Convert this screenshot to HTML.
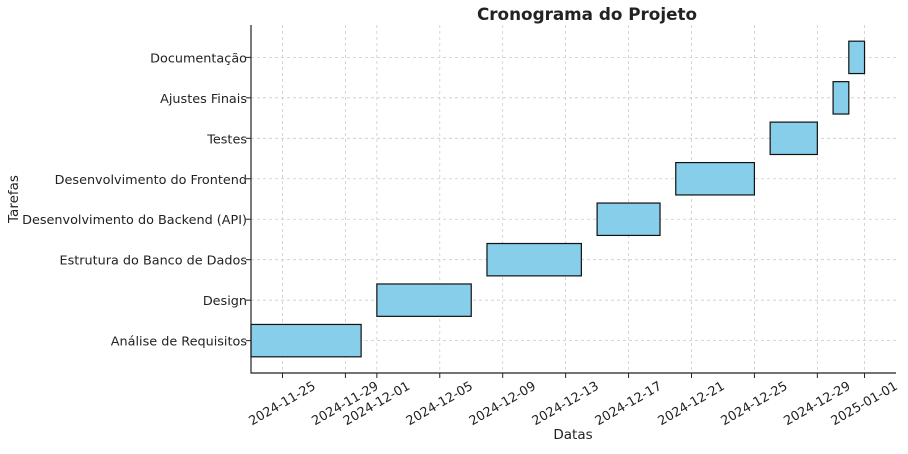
<!DOCTYPE html>
<html><head><meta charset="utf-8"><style>
body{margin:0;background:#fff;}
svg text{font-family:"DejaVu Sans","Liberation Sans",sans-serif;fill:#222;}
</style></head><body>
<svg id="chart" width="908" height="449" xmlns="http://www.w3.org/2000/svg">
<text x="587" y="20" text-anchor="middle" font-size="16.8" font-weight="bold">Cronograma do Projeto</text>
<text x="573" y="439" text-anchor="middle" font-size="13.5">Datas</text>
<text transform="translate(18,199) rotate(-90)" text-anchor="middle" font-size="13.5">Tarefas</text>
<g id="grid"></g><g id="bars"></g><g id="axes"></g>
</svg>
<script>
const tasks=["Análise de Requisitos","Design","Estrutura do Banco de Dados","Desenvolvimento do Backend (API)","Desenvolvimento do Frontend","Testes","Ajustes Finais","Documentação"];
const starts=["2024-11-23","2024-12-01","2024-12-08","2024-12-15","2024-12-20","2024-12-26","2024-12-30","2024-12-31"];
const ends=["2024-11-30","2024-12-07","2024-12-14","2024-12-19","2024-12-25","2024-12-29","2024-12-31","2025-01-01"];
const xTicks=["2024-11-25","2024-11-29","2024-12-01","2024-12-05","2024-12-09","2024-12-13","2024-12-17","2024-12-21","2024-12-25","2024-12-29","2025-01-01"];
const NS="http://www.w3.org/2000/svg";
const L=251,R=896,T=25,B=373;
const d0=Date.UTC(2024,10,23),d1=Date.UTC(2025,0,3);
function day(s){const p=s.split('-');return Date.UTC(+p[0],p[1]-1,+p[2]);}
function x(s){return L+(day(s)-d0)/(d1-d0)*(R-L);}
function y(i){return B+(-0.8-i)*(B-T)/8.6;}
const bh=0.8*(B-T)/8.6;
function mk(tag,at,par){const e=document.createElementNS(NS,tag);for(const k in at)e.setAttribute(k,at[k]);document.getElementById(par).appendChild(e);return e;}
xTicks.forEach(t=>{
 const g=mk('line',{x1:x(t),x2:x(t),y1:T,y2:B,stroke:'#ccc','stroke-dasharray':'3,3','stroke-width':0.8},'grid');
 
 
 const tk=mk('line',{x1:x(t),x2:x(t),y1:B,y2:B+5,stroke:'#222'},'axes');
 
 
 const lx=x(t),ly=B+31;
 const lb=mk('text',{x:lx,y:ly,'font-size':12.8,'text-anchor':'middle','dominant-baseline':'central',transform:`rotate(-30 ${lx} ${ly})`},'axes');
 lb.textContent=t;
 
 
});
tasks.forEach((t,i)=>{
 const g=mk('line',{x1:L,x2:R,y1:y(i),y2:y(i),stroke:'#ccc','stroke-dasharray':'3,3','stroke-width':0.8},'grid');
 
 
 const b=mk('rect',{x:x(starts[i]),y:y(i)-bh/2,width:x(ends[i])-x(starts[i]),height:bh,fill:'#87ceeb',stroke:'#111','stroke-width':1.2},'bars');
 
 
 const tk=mk('line',{x1:L-5,x2:L,y1:y(i),y2:y(i),stroke:'#222'},'axes');
 
 
 const lb=mk('text',{x:L-4,y:y(i)+5,'font-size':12.8,'text-anchor':'end'},'axes');
 lb.textContent=t;
 
 
});
const ax=mk('path',{d:`M${L},${T} V${B} H${R}`,fill:'none',stroke:'#222','stroke-width':1.2},'axes');


</script>
</body></html>
